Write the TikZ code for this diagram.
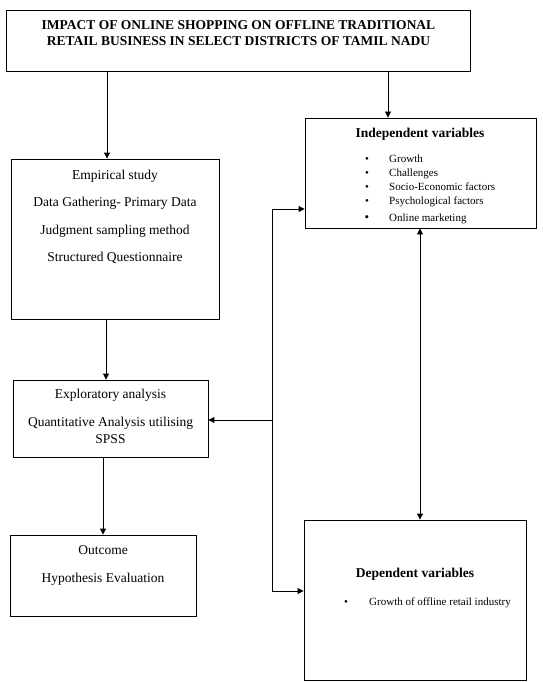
\documentclass[tikz,border=0pt]{standalone}
\usepackage{fontspec}
\setmainfont{Liberation Serif}
\usetikzlibrary{arrows.meta}
\tikzset{
  box/.style={draw, line width=0.9pt, inner sep=0pt},
  body/.style={font=\fontsize{13.5}{16}\selectfont, anchor=base, inner sep=0pt},
  hdr/.style={font=\fontsize{13.5}{16}\selectfont\bfseries, anchor=base, inner sep=0pt},
  small/.style={font=\fontsize{11}{13}\selectfont, anchor=base west, inner sep=0pt},
  bul/.style={font=\fontsize{11}{13}\selectfont, anchor=base, inner sep=0pt},
  conn/.style={line width=0.9pt},
  arr/.style={conn, -{Triangle[length=6pt,width=6pt]}},
  arrr/.style={conn, {Triangle[length=6pt,width=6pt]}-{Triangle[length=6pt,width=6pt]}}
}
\begin{document}
\begin{tikzpicture}[x=1pt,y=-1pt]
\useasboundingbox (0,0) rectangle (542,682);
% boxes
\node[box, minimum width=464pt, minimum height=61pt] (title) at (238,40.5) {};
\node[box, minimum width=231pt, minimum height=110pt] (indep) at (420.5,173) {};
\node[box, minimum width=208pt, minimum height=160pt] (emp) at (115,239) {};
\node[box, minimum width=195pt, minimum height=77pt] (expl) at (110.5,418.5) {};
\node[box, minimum width=186pt, minimum height=81pt] (outc) at (103,575.5) {};
\node[box, minimum width=222pt, minimum height=160pt] (dep) at (415,600) {};
% title text
\node[hdr] (t1) at (238.5,29.5) {IMPACT OF ONLINE SHOPPING ON OFFLINE TRADITIONAL};
\node[hdr] (t2) at (238.5,45.5) {RETAIL BUSINESS IN SELECT DISTRICTS OF TAMIL NADU};
% independent
\node[hdr] (ih) at (420,137.5) {Independent variables};
\node[bul] (ib1) at (367,162.5) {•};
\node[small] (it1) at (389,162.5) {Growth};
\node[bul] (ib2) at (367,176.5) {•};
\node[small] (it2) at (389,176.5) {Challenges};
\node[bul] (ib3) at (367,190.5) {•};
\node[small] (it3) at (389,190.5) {Socio-Economic factors};
\node[bul] (ib4) at (367,204.5) {•};
\node[small] (it4) at (389,204.5) {Psychological factors};
\node[bul, font=\fontsize{13}{13}\selectfont] (ib5) at (367,221.5) {•};
\node[small] (it5) at (389,221.5) {Online marketing};
% empirical
\node[body] (e1) at (115,179.5) {Empirical study};
\node[body] (e2) at (115,206.5) {Data Gathering- Primary Data};
\node[body] (e3) at (115,234.5) {Judgment sampling method};
\node[body] (e4) at (115,261.5) {Structured Questionnaire};
% exploratory
\node[body] (x1) at (110.5,398.5) {Exploratory analysis};
\node[body] (x2) at (110.5,426) {Quantitative Analysis utilising};
\node[body] (x3) at (110.5,443) {SPSS};
% outcome
\node[body] (o1) at (103,554.5) {Outcome};
\node[body] (o2) at (103,582.5) {Hypothesis Evaluation};
% dependent
\node[hdr] (dh) at (415,577.5) {Dependent variables};
\node[bul] (db1) at (346,605) {•};
\node[small] (dt1) at (369,605) {Growth of offline retail industry};
% connector coordinates
\coordinate (c1) at (107,0);
\coordinate (c2) at (388,0);
\coordinate (c3) at (106,0);
\coordinate (c4) at (103,0);
\coordinate (c5) at (420,0);
\coordinate (j1) at (272,209);
\coordinate (j2) at (272,591);
\coordinate (j3) at (272,420);
% connectors
\draw[arr] (title.south -| c1) -- (emp.north -| c1);
\draw[arr] (title.south -| c2) -- (indep.north -| c2);
\draw[arr] (emp.south -| c3) -- (expl.north -| c3);
\draw[arr] (expl.south -| c4) -- (outc.north -| c4);
\draw[arr] (j1) -- (indep.west |- j1);
\draw[arr] (j1) -- (j2) -- (dep.west |- j2);
\draw[arr] (j3) -- (expl.east |- j3);
\draw[arrr] (indep.south -| c5) -- (dep.north -| c5);
\end{tikzpicture}
\end{document}
